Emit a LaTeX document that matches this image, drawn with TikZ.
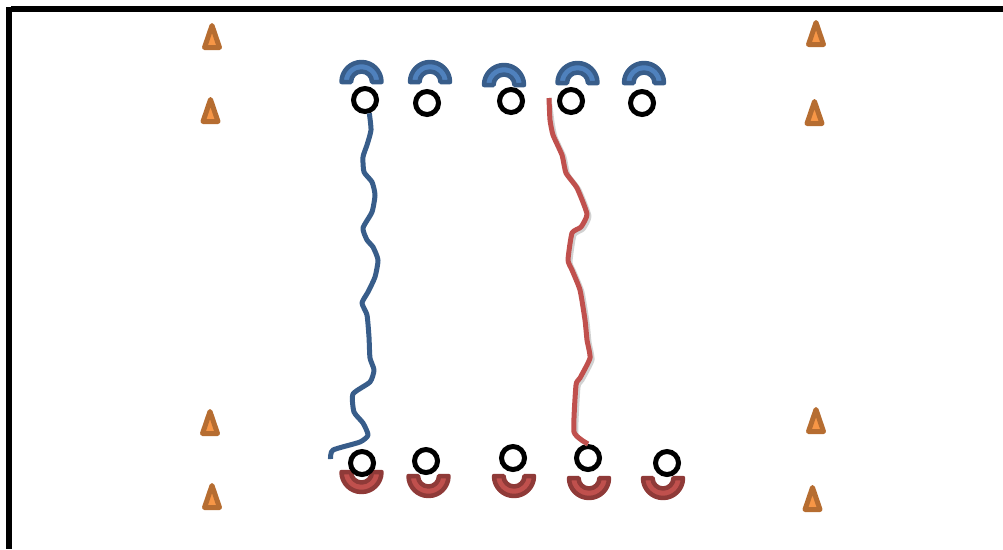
\documentclass[tikz,border=0pt]{standalone}
\usepackage{xcolor}
\usetikzlibrary{positioning}
\definecolor{bandblue}{HTML}{385D8A}
\definecolor{fillblue}{HTML}{4F81BD}
\definecolor{bandred}{HTML}{8F3A38}
\definecolor{fillred}{HTML}{C0504D}
\definecolor{conedark}{HTML}{B66D31}
\definecolor{conefill}{HTML}{F79646}

\begin{document}
\begin{tikzpicture}[
    x=1pt, y=-1pt,
    player/.style={draw=black, fill=white, circle, line width=5pt, inner sep=0pt, minimum size=23pt},
    run/.style={line width=5pt, line join=round},
    topband/.pic={\draw[draw=bandblue, fill=fillblue, line width=4.5pt, line join=round]
        (-20,0) arc[start angle=-180, end angle=0, radius=20] -- (10.5,0) arc[start angle=0, end angle=-180, radius=10.5] -- cycle;},
    lowband/.pic={\draw[draw=bandred, fill=fillred, line width=4.5pt, line join=round]
        (-20,0) arc[start angle=180, end angle=0, radius=20] -- (10.5,0) arc[start angle=0, end angle=180, radius=10.5] -- cycle;},
    cone/.pic={\draw[draw=conedark, fill=conefill, line width=5pt, line join=round]
        (-7.5,-2.5) -- (0,-24.5) -- (7.5,-2.5) -- cycle;},
]
    \useasboundingbox (0,0) rectangle (1003,549);

    % Frame
    \fill[black] (6,7) rectangle (12,549);
    \fill[black] (11,6) rectangle (1003,12);

    % Cones
    \pic (coneA) at (212,50) {cone};
    \pic (coneB) at (210.5,124) {cone};
    \pic (coneC) at (210,436) {cone};
    \pic (coneD) at (212,510) {cone};
    \pic (coneE) at (816,47) {cone};
    \pic (coneF) at (814.5,126) {cone};
    \pic (coneG) at (816,434) {cone};
    \pic (coneH) at (812.5,512) {cone};

    % Top row
    \pic (bandA) at (361.5,82) {topband};
    \pic (bandB) at (430,82) {topband};
    \pic (bandC) at (504,85) {topband};
    \pic (bandD) at (577.5,83) {topband};
    \pic (bandE) at (644,83) {topband};
    \node[player] (topA) at (365,100) {};
    \node[player] (topB) at (427,103) {};
    \node[player] (topC) at (511,101) {};
    \node[player] (topD) at (571,101) {};
    \node[player] (topE) at (642,103) {};

    % Bottom row
    \pic (bandF) at (361.5,472) {lowband};
    \pic (bandG) at (428.5,476) {lowband};
    \pic (bandH) at (514,476) {lowband};
    \pic (bandI) at (589,478) {lowband};
    \pic (bandJ) at (663,478) {lowband};
    \node[player] (lowA) at (362,463) {};
    \node[player] (lowB) at (426,461) {};
    \node[player] (lowC) at (513,458) {};
    \node[player] (lowD) at (588,458) {};
    \node[player] (lowE) at (667,463) {};

    % Runs
    \coordinate (blueEnd) at (330.5,459);
    \coordinate (redStart) at (549,98);
    \draw[run, bandblue] plot[smooth, tension=0.35] coordinates {(topA.-72) (371,130) (367,145) (363,157) (364,172) (372,182) (375,195) (372,212) (363,228) (367,240) (373,247) (378,260) (375,277) (368,292) (362,303) (367,315) (369,337) (370,358) (374,370) (370,382) (353,394) (354,412) (363,423) (368,435) (360,442) (333,450) (blueEnd)};
    \draw[run, black!18, xshift=2pt, yshift=-2pt] plot[smooth, tension=0.3] coordinates {(redStart) (550,120) (553,135) (562,155) (566,173) (577,188) (587,214) (581,227) (572,233) (568,260) (572,270) (580,290) (585,320) (587,340) (590,358) (580,378) (576,385) (574,432) (lowD.north)};
    \draw[run, fillred] plot[smooth, tension=0.3] coordinates {(redStart) (550,120) (553,135) (562,155) (566,173) (577,188) (587,214) (581,227) (572,233) (568,260) (572,270) (580,290) (585,320) (587,340) (590,358) (580,378) (576,385) (574,432) (lowD.north)};
\end{tikzpicture}
\end{document}
